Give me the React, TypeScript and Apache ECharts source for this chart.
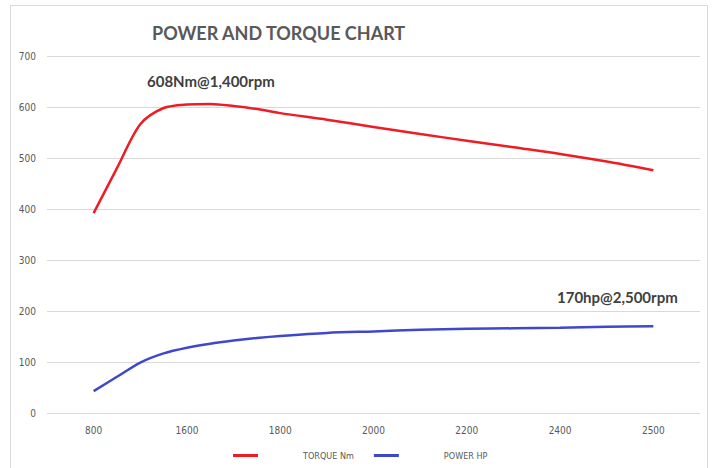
import React, { useEffect, useRef } from "react";
import * as echarts from "echarts";

// Tick labels along the horizontal axis (evenly spaced, as in the reference)
const xLabels = ["800", "1600", "1800", "2000", "2200", "2400", "2500"];
// Sample positions along that axis (0 = "800", 1 = "1600", ... 6 = "2500")
const samplePos = [0, 0.25, 0.5, 0.75, 1, 1.25, 1.5, 1.75, 2, 2.5, 3, 3.5, 4, 4.5, 5, 5.5, 6];
// Torque (Nm) at those positions
const torqueNm = [392, 480, 566, 598, 605, 606, 602, 596, 588, 575, 561, 547, 534, 521, 508, 493, 476];
// Power (HP) at those positions
const powerHp = [43, 71, 99, 117, 128, 136, 142, 147, 151, 157, 160, 163, 165, 166, 167, 169, 170];
const seriesNames = ["TORQUE Nm", "POWER HP"];
const titleText = "POWER AND TORQUE CHART";
const torqueNote = "608Nm@1,400rpm";
const powerNote = "170hp@2,500rpm";

const FONT = "'Liberation Sans Narrow', 'DejaVu Sans Condensed', sans-serif";

export default function App() {
  const ref = useRef<HTMLDivElement>(null);
  useEffect(() => {
    if (!ref.current) return;
    const chart = echarts.init(ref.current, undefined, { renderer: "svg" });
    const pair = (vals: number[]) => samplePos.map((p, i) => [p, vals[i]]);
    chart.setOption({
      animation: false,
      backgroundColor: "#ffffff",
      title: {
        text: titleText,
        left: 147,
        top: 19,
        textStyle: { fontSize: 18, fontWeight: "bold", color: "#595959", fontFamily: "Lato, sans-serif" },
      },
      grid: { left: 47, right: 15, top: 56, bottom: 55 },
      xAxis: {
        type: "value",
        min: -0.5,
        max: 6.5,
        splitLine: { show: false },
        axisLine: { show: false },
        axisTick: { show: false },
        axisLabel: {
          customValues: [0, 1, 2, 3, 4, 5, 6],
          formatter: (v: number) => (Number.isInteger(v) ? xLabels[v] ?? "" : ""),
          color: "#595959",
          fontSize: 10,
          fontFamily: FONT,
          margin: 12,
        },
      },
      yAxis: {
        type: "value",
        min: 0,
        max: 700,
        interval: 100,
        axisLine: { show: false },
        axisTick: { show: false },
        splitLine: { lineStyle: { color: "#d9d9d9", width: 1 } },
        axisLabel: { color: "#595959", fontSize: 10, fontFamily: FONT, margin: 11 },
      },
      legend: {
        data: seriesNames,
        left: 228,
        top: 446,
        icon: "rect",
        itemWidth: 25,
        itemHeight: 3,
        itemGap: 20,
        textStyle: { color: "#595959", fontSize: 9, fontFamily: FONT, padding: [0, 0, 0, 40] },
      },
      series: [
        {
          name: seriesNames[0],
          type: "line",
          data: pair(torqueNm),
          smooth: 0.3,
          showSymbol: false,
          lineStyle: { color: "#ee1c25", width: 2.5 },
          itemStyle: { color: "#ee1c25" },
        },
        {
          name: seriesNames[1],
          type: "line",
          data: pair(powerHp),
          smooth: 0.3,
          showSymbol: false,
          lineStyle: { color: "#3f48cc", width: 2.5 },
          itemStyle: { color: "#3f48cc" },
        },
      ],
      graphic: [
        {
          type: "rect",
          silent: true,
          shape: { x: 10.5, y: 5.5, width: 697, height: 480 },
          style: { fill: "none", stroke: "#d9d9d9", lineWidth: 1 },
        },
        {
          type: "text",
          left: 147,
          top: 73,
          style: { text: torqueNote, fontSize: 15, fontWeight: "bold", fill: "#404040", fontFamily: "Lato, sans-serif" },
        },
        {
          type: "text",
          left: 557,
          top: 289,
          style: { text: powerNote, fontSize: 15, fontWeight: "bold", fill: "#404040", fontFamily: "Lato, sans-serif" },
        },
      ],
    });
    return () => chart.dispose();
  }, []);
  return (
    <div
      ref={ref}
      style={{ position: "absolute", left: 0, top: 0, width: 715, height: 468, background: "#fff" }}
    />
  );
}
